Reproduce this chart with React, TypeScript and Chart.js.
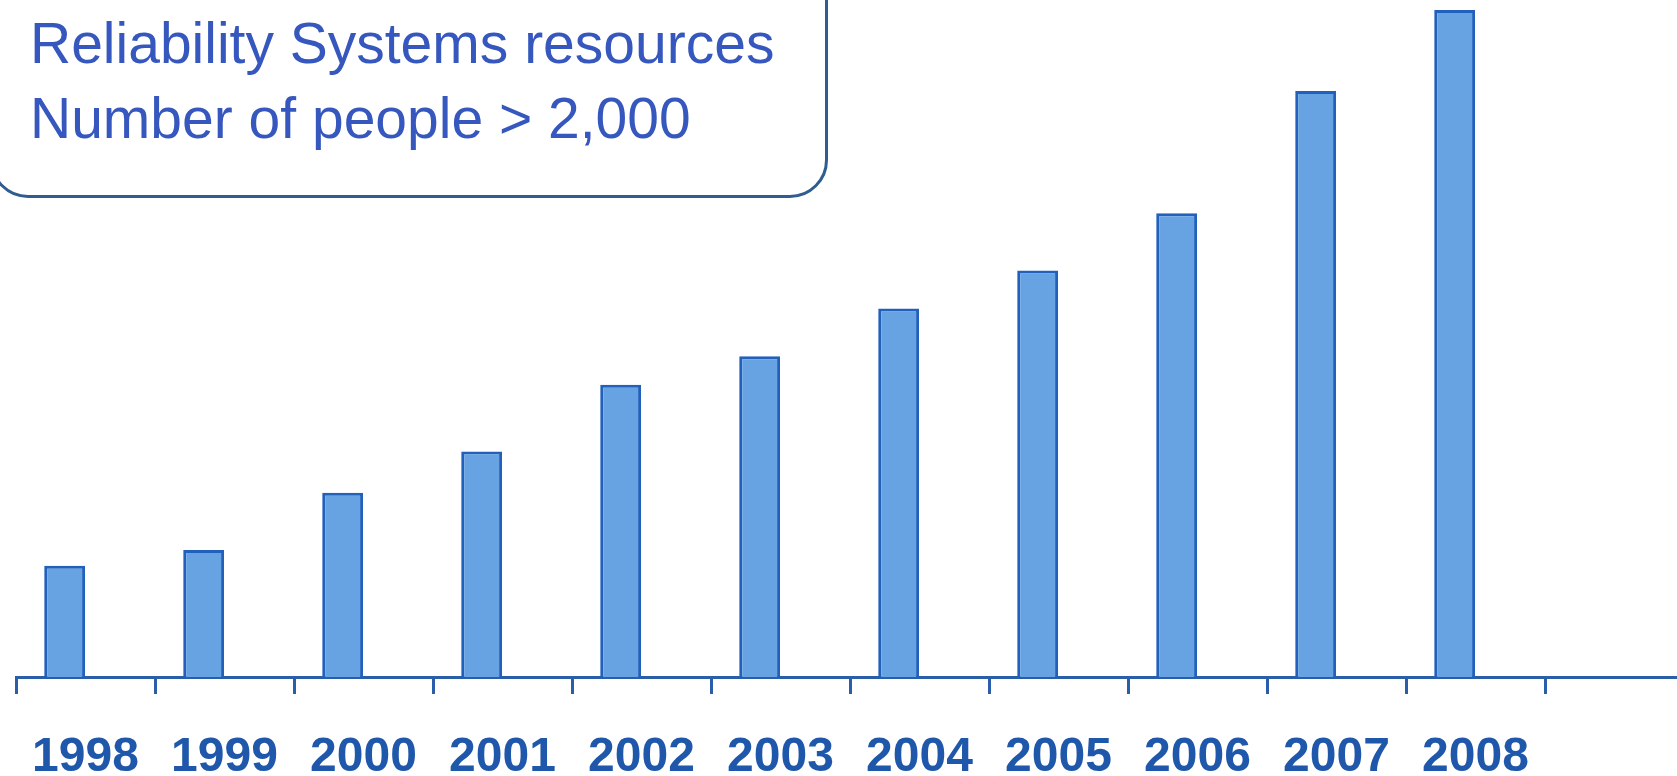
import React, { useEffect, useRef } from "react";
import { Chart, registerables } from "chart.js";

Chart.register(...registerables);

const years = ["1998", "1999", "2000", "2001", "2002", "2003", "2004", "2005", "2006", "2007", "2008", ""];
const people = [350, 400, 580, 710, 920, 1010, 1160, 1280, 1460, 1845, 2100, null];
const spacer = [null, null, null, null, null, null, null, null, null, null, null, null];
const titleLines = ["Reliability Systems resources", "Number of people > 2,000"];

const FONT = "'Liberation Sans', Arial, sans-serif";
const AXIS_BLUE = "#2a5ea8";
const LABEL_BLUE = "#1f58aa";

export default function App() {
  const canvasRef = useRef<HTMLCanvasElement | null>(null);

  useEffect(() => {
    document.body.style.margin = "0";
    const canvas = canvasRef.current;
    if (!canvas) return;
    const chart = new Chart(canvas, {
      type: "bar",
      data: {
        labels: years,
        datasets: [
          {
            data: people,
            backgroundColor: "#67a3e3",
            borderColor: "#2160bb",
            borderWidth: 3,
            categoryPercentage: 0.6,
            barPercentage: 0.98,
          },
          {
            data: spacer,
            backgroundColor: "rgba(0,0,0,0)",
            categoryPercentage: 0.6,
            barPercentage: 0.98,
          },
        ],
      },
      options: {
        animation: false,
        responsive: false,
        layout: { padding: { left: 16, right: 16, top: 10, bottom: 0 } },
        plugins: {
          legend: { display: false },
          tooltip: { enabled: false },
          title: { display: false },
        },
        scales: {
          x: {
            offset: true,
            grid: {
              offset: true,
              drawOnChartArea: false,
              drawTicks: true,
              tickLength: 17,
              color: AXIS_BLUE,
              lineWidth: 3,
            },
            border: { display: true, color: AXIS_BLUE, width: 3 },
            ticks: {
              color: LABEL_BLUE,
              padding: 35,
              maxRotation: 0,
              autoSkip: false,
              font: { family: FONT, size: 48, weight: "bold" },
            },
            afterFit: (scale: any) => {
              scale.height = 99;
              scale.paddingLeft = 0;
              scale.paddingRight = 0;
            },
          },
          y: {
            display: false,
            min: 0,
            max: 2100,
          },
        },
      },
    });
    return () => chart.destroy();
  }, []);

  return (
    <div
      style={{
        position: "fixed",
        left: 0,
        top: 0,
        width: 1677,
        height: 776,
        overflow: "hidden",
        background: "#ffffff",
      }}
    >
      <canvas ref={canvasRef} width={1700} height={776} style={{ display: "block", position: "absolute", left: 0, top: 0 }} />
      <div
        style={{
          position: "absolute",
          left: -10,
          top: -60,
          width: 838,
          height: 258,
          boxSizing: "border-box",
          border: "3px solid #2f5d90",
          borderRadius: 38,
          background: "transparent",
        }}
      />
      <div
        style={{
          position: "absolute",
          left: 30,
          top: 6,
          fontFamily: FONT,
          fontSize: 57,
          lineHeight: "75px",
          color: "#3557be",
          whiteSpace: "nowrap",
        }}
      >
        {titleLines.map((t) => (
          <div key={t}>{t}</div>
        ))}
      </div>
    </div>
  );
}
